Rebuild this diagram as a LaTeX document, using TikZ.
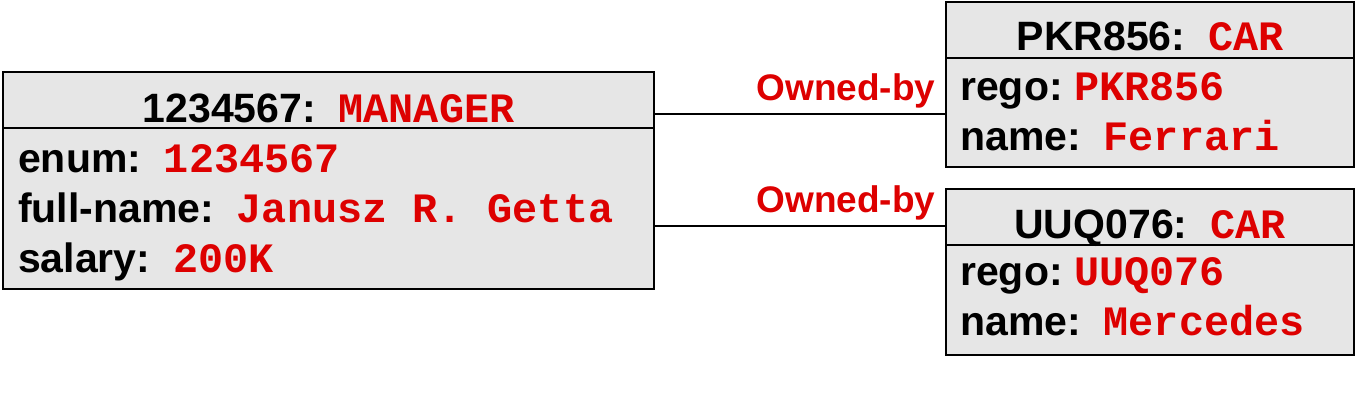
\documentclass[tikz,border=0pt]{standalone}
\usepackage{fontspec}
\setmainfont{Liberation Sans}
\newfontfamily\monofont{Liberation Mono}[Scale=1.02]
\usetikzlibrary{positioning}
\definecolor{valred}{RGB}{221,0,0}
\definecolor{boxgray}{RGB}{230,230,230}
\newcommand{\val}[1]{{\monofont\color{valred}#1}}
\tikzset{
  objbox/.style={draw, fill=boxgray, line width=1.6pt, inner sep=0pt, outer sep=0pt, minimum width=408pt},
  txt/.style={inner sep=0pt, anchor=base west, font=\fontsize{41}{48}\selectfont\bfseries},
  head/.style={txt, anchor=base},
  ownlabel/.style={inner sep=0pt, anchor=base east, xshift=-10pt, yshift=14pt, text=valred, font=\fontsize{37}{44}\selectfont\bfseries}
}

\begin{document}
\begin{tikzpicture}[x=1pt, y=-1pt]
    \useasboundingbox (0,0) rectangle (1358,412);
    % object boxes
    \node[objbox, minimum width=651pt, minimum height=217pt] (mgr) at (328.5,180.5) {};
    \node[objbox, minimum height=165pt] (car1) at (1150,84.5) {};
    \node[objbox, minimum height=166pt] (car2) at (1150,272) {};
    \foreach \b in {mgr, car1, car2}
      \draw[line width=1.6pt] ([yshift=-56pt]\b.north west) -- ([yshift=-56pt]\b.north east);
    % manager
    \node[head] (mgrhead) at ([yshift=-50pt]mgr.north) {1234567:~~\val{MANAGER}};
    \node[txt] (mgrenum) at ([xshift=15pt, yshift=-100pt]mgr.north west) {enum:~~\val{1234567}};
    \node[txt] (mgrname) at ([xshift=15pt, yshift=-150pt]mgr.north west) {full-name:~~\val{Janusz R. Getta}};
    \node[txt] (mgrsal) at ([xshift=15pt, yshift=-200pt]mgr.north west) {salary:~~\val{200K}};
    % cars
    \node[head] (car1head) at ([yshift=-49pt]car1.north) {PKR856:~~\val{CAR}};
    \node[txt] (car1rego) at ([xshift=14pt, yshift=-98pt]car1.north west) {rego:~\val{PKR856}};
    \node[txt] (car1name) at ([xshift=14pt, yshift=-148pt]car1.north west) {name:~~\val{Ferrari}};
    \node[head] (car2head) at ([yshift=-49pt]car2.north) {UUQ076:~~\val{CAR}};
    \node[txt] (car2rego) at ([xshift=14pt, yshift=-96pt]car2.north west) {rego:~\val{UUQ076}};
    \node[txt] (car2name) at ([xshift=14pt, yshift=-146pt]car2.north west) {name:~~\val{Mercedes}};
    % links
    \coordinate (own1) at (800,114);
    \coordinate (own2) at (800,226);
    \draw[line width=1.4pt] (mgr.east |- own1) -- (car1.west |- own1) node[ownlabel] (own1lbl) {Owned-by};
    \draw[line width=1.4pt] (mgr.east |- own2) -- (car2.west |- own2) node[ownlabel] (own2lbl) {Owned-by};
\end{tikzpicture}
\end{document}
